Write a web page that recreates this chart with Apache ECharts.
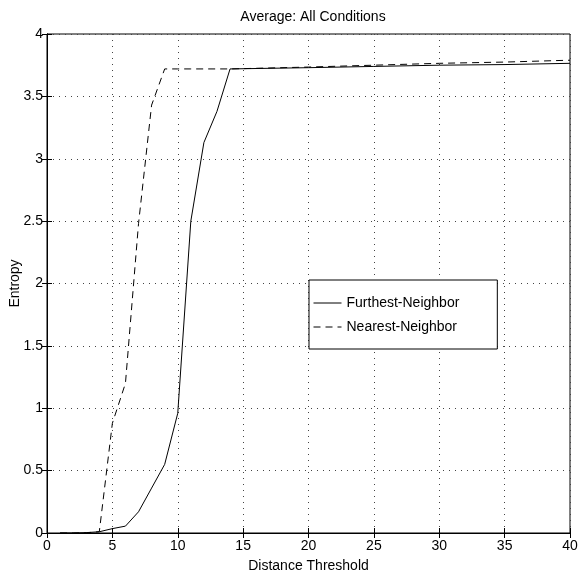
<!DOCTYPE html>
<html>
<head>
<meta charset="utf-8">
<script src="https://cdn.jsdelivr.net/npm/echarts@6/dist/echarts.min.js"></script>
<style>
  html, body { margin: 0; padding: 0; background: #fff; }
  #chart { width: 579px; height: 573px; }
</style>
</head>
<body>
<div id="chart"></div>
<script>
const titleText = 'Average: All Conditions';
const xAxisName = 'Distance Threshold';
const yAxisName = 'Entropy';
const furthestName = 'Furthest-Neighbor';
const nearestName = 'Nearest-Neighbor';

const furthestX = [1, 2, 3, 4, 5, 6, 7, 8, 9, 10, 11, 12, 13, 14, 20, 25, 30, 35, 40];
const furthestY = [0, 0, 0.003, 0.01, 0.035, 0.055, 0.17, 0.36, 0.55, 0.96, 2.5, 3.13, 3.38, 3.72, 3.73, 3.74, 3.75, 3.755, 3.765];

const nearestX = [1, 2, 3, 4, 5, 6, 7, 8, 9, 10, 11, 12, 13, 14, 20, 25, 30, 35, 40];
const nearestY = [0, 0, 0.002, 0.01, 0.88, 1.2, 2.48, 3.43, 3.72, 3.72, 3.72, 3.72, 3.72, 3.72, 3.735, 3.75, 3.765, 3.775, 3.79];

const xMin = 0, xMax = 40, xStep = 5;
const yMin = 0, yMax = 4, yStep = 0.5;

const FONT = '"Liberation Sans", Arial, Helvetica, sans-serif';

function pairs(xs, ys) { return xs.map((x, i) => [x, ys[i]]); }

const chart = echarts.init(document.getElementById('chart'), null, { renderer: 'canvas' });

const gridLine = { show: true, lineStyle: { color: '#444', type: [1, 5], width: 1 } };

chart.setOption({
  animation: false,
  backgroundColor: '#fff',
  textStyle: { fontFamily: FONT, color: '#000' },
  title: {
    text: titleText,
    left: 308, top: 5, textAlign: 'center',
    textStyle: { fontFamily: FONT, fontSize: 14, fontWeight: 'normal', color: '#000' }
  },
  grid: {
    left: 47, right: 9, top: 34, bottom: 40,
    outerBoundsMode: 'none', containLabel: false,
    show: true, borderColor: '#000', borderWidth: 1, backgroundColor: 'transparent'
  },
  legend: {
    orient: 'vertical',
    left: 309, top: 280,
    padding: [16, 38, 15, 4],
    itemWidth: 28, itemHeight: 14, itemGap: 10,
    selectedMode: false,
    borderColor: '#000', borderWidth: 1, backgroundColor: '#fff',
    itemStyle: { opacity: 0 },
    lineStyle: { width: 1 },
    textStyle: { fontFamily: FONT, fontSize: 14, color: '#000' },
    data: [furthestName, nearestName]
  },
  xAxis: [{
    type: 'value', min: xMin, max: xMax, interval: xStep,
    name: xAxisName, nameLocation: 'middle', nameGap: 26,
    nameTextStyle: { fontFamily: FONT, fontSize: 14, color: '#000' },
    axisLine: { show: true, lineStyle: { color: '#000', width: 1 } },
    axisTick: { show: true, inside: true, length: 5, lineStyle: { color: '#000' } },
    axisLabel: { fontFamily: FONT, fontSize: 14, color: '#000', margin: 6 },
    splitLine: gridLine
  }, {
    type: 'value', position: 'top', min: xMin, max: xMax, interval: xStep,
    axisLine: { show: true, lineStyle: { color: '#000', width: 1 } },
    axisTick: { show: true, inside: true, length: 5, lineStyle: { color: '#000' } },
    axisLabel: { show: false },
    splitLine: { show: false }
  }],
  yAxis: [{
    type: 'value', min: yMin, max: yMax, interval: yStep,
    name: yAxisName, nameLocation: 'middle', nameGap: 25, nameMoveOverlap: false,
    nameTextStyle: { fontFamily: FONT, fontSize: 14, color: '#000' },
    axisLine: { show: true, lineStyle: { color: '#000', width: 1 } },
    axisTick: { show: true, inside: true, length: 5, lineStyle: { color: '#000' } },
    axisLabel: { fontFamily: FONT, fontSize: 14, color: '#000', margin: 4 },
    splitLine: gridLine
  }, {
    type: 'value', position: 'right', min: yMin, max: yMax, interval: yStep,
    axisLine: { show: true, lineStyle: { color: '#000', width: 1 } },
    axisTick: { show: true, inside: true, length: 5, lineStyle: { color: '#000' } },
    axisLabel: { show: false },
    splitLine: { show: false }
  }],
  series: [{
    name: furthestName, type: 'line',
    xAxisIndex: 0, yAxisIndex: 0,
    data: pairs(furthestX, furthestY),
    symbol: 'none', showSymbol: false,
    lineStyle: { color: '#000', width: 1, type: 'solid' },
    itemStyle: { color: '#000' }
  }, {
    name: nearestName, type: 'line',
    xAxisIndex: 0, yAxisIndex: 0,
    data: pairs(nearestX, nearestY),
    symbol: 'none', showSymbol: false,
    lineStyle: { color: '#000', width: 1, type: [7, 5] },
    itemStyle: { color: '#000' }
  }]
});
</script>
</body>
</html>
